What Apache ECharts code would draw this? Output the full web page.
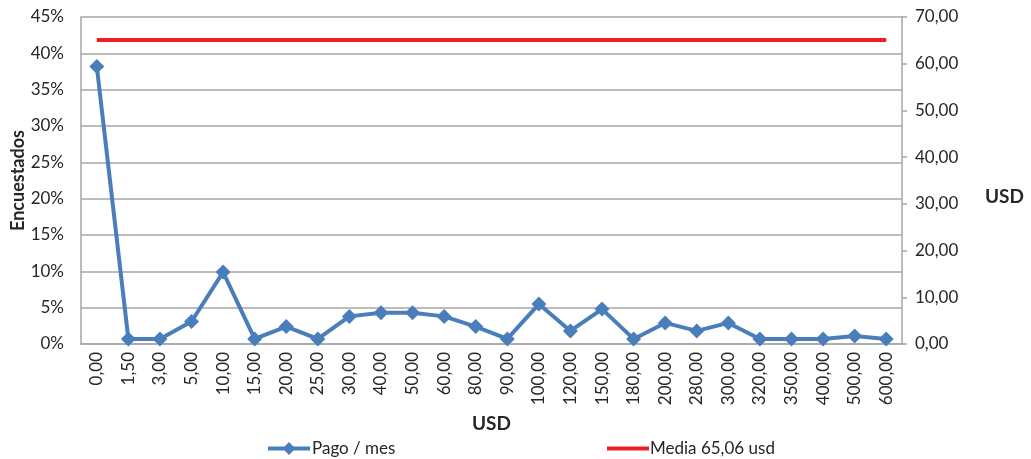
<!DOCTYPE html>
<html>
<head>
<meta charset="utf-8">
<script src="https://cdn.jsdelivr.net/npm/echarts@6/dist/echarts.min.js"></script>
<style>html,body{margin:0;padding:0;background:#fff}#c{width:1031px;height:459px}</style>
</head>
<body>
<div id="c"></div>
<script>
const categories = ['0,00','1,50','3,00','5,00','10,00','15,00','20,00','25,00','30,00','40,00','50,00','60,00','80,00','90,00','100,00','120,00','150,00','180,00','200,00','280,00','300,00','320,00','350,00','400,00','500,00','600,00'];
const pagoMes = [38.2,0.7,0.7,3.1,9.9,0.7,2.4,0.7,3.8,4.3,4.3,3.8,2.4,0.7,5.5,1.8,4.8,0.7,2.9,1.8,2.9,0.7,0.7,0.7,1.1,0.7];
const mediaValue = 65.06;
const media = categories.map(() => mediaValue);
const leftTicks = [0,5,10,15,20,25,30,35,40,45];
const rightTicks = [0,10,20,30,40,50,60,70];

const FONT = 'Lato';
const TXT = '#262626';
const GRID = '#A6A6A6';
const BLUE = '#4A7EBB';
const RED = '#EE2027';

const chart = echarts.init(document.getElementById('c'));
chart.setOption({
  animation: false,
  textStyle: { fontFamily: FONT },
  grid: { left: 81, right: 129, top: 17, bottom: 115, containLabel: false, outerBoundsMode: 'none' },
  legend: [
    { left: 266, top: 440, padding: 0, itemWidth: 42, itemHeight: 16, itemGap: 10,
      lineStyle: { width: 4 },
      data: ['Pago / mes'], textStyle: { fontFamily: FONT, fontSize: 17, color: TXT, padding: [0,0,0,-3] } },
    { left: 607, top: 440, padding: 0, itemWidth: 42, itemHeight: 16,
      data: [{ name: 'Media 65,06 usd', icon: 'path://M0,6.5 L42,6.5 L42,10.5 L0,10.5 Z' }],
      textStyle: { fontFamily: FONT, fontSize: 17, color: TXT, padding: [0,0,0,-4] } }
  ],
  xAxis: {
    type: 'category', data: categories, boundaryGap: true,
    name: 'USD', nameLocation: 'middle', nameGap: 70, nameMoveOverlap: false,
    nameTextStyle: { fontFamily: FONT, fontSize: 19, fontWeight: 'bold', color: TXT },
    axisLine: { lineStyle: { color: GRID, width: 1.5 } },
    axisTick: { show: false },
    axisLabel: { rotate: 90, margin: 8, fontFamily: FONT, fontSize: 17, color: TXT, interval: 0 }
  },
  yAxis: [
    {
      type: 'value', min: leftTicks[0], max: leftTicks[leftTicks.length-1], interval: 5,
      name: 'Encuestados', nameLocation: 'middle', nameGap: 54, nameRotate: 90, nameMoveOverlap: false,
      nameTextStyle: { fontFamily: FONT, fontSize: 18, fontWeight: 'bold', color: TXT },
      axisLine: { show: true, lineStyle: { color: GRID, width: 1.5 } },
      axisTick: { show: false },
      splitLine: { lineStyle: { color: GRID, width: 1.5 } },
      axisLabel: { margin: 17, fontFamily: FONT, fontSize: 17, color: TXT, formatter: v => v + '%' }
    },
    {
      type: 'value', position: 'right', min: rightTicks[0], max: rightTicks[rightTicks.length-1], interval: 10,
      name: 'USD', nameLocation: 'middle', nameGap: 83, nameRotate: 0, nameMoveOverlap: false,
      nameTextStyle: { fontFamily: FONT, fontSize: 19, fontWeight: 'bold', color: TXT,
        verticalAlign: 'top', align: 'left', padding: [7,0,0,0] },
      axisLine: { show: true, lineStyle: { color: GRID, width: 1.5 } },
      axisTick: { show: true, length: 5, lineStyle: { color: GRID, width: 1.5 } },
      splitLine: { show: false },
      axisLabel: { margin: 13, fontFamily: FONT, fontSize: 17, color: TXT,
        formatter: v => v.toFixed(2).replace('.', ',') }
    }
  ],
  series: [
    {
      name: 'Pago / mes', type: 'line', yAxisIndex: 0, data: pagoMes,
      symbol: 'diamond', symbolSize: 15, showAllSymbol: true,
      lineStyle: { color: BLUE, width: 4 },
      itemStyle: { color: BLUE }, z: 3
    },
    {
      name: 'Media 65,06 usd', type: 'line', yAxisIndex: 1, data: media,
      symbol: 'none', lineStyle: { color: RED, width: 4 },
      itemStyle: { color: RED }, z: 2
    }
  ]
});
</script>
</body>
</html>
